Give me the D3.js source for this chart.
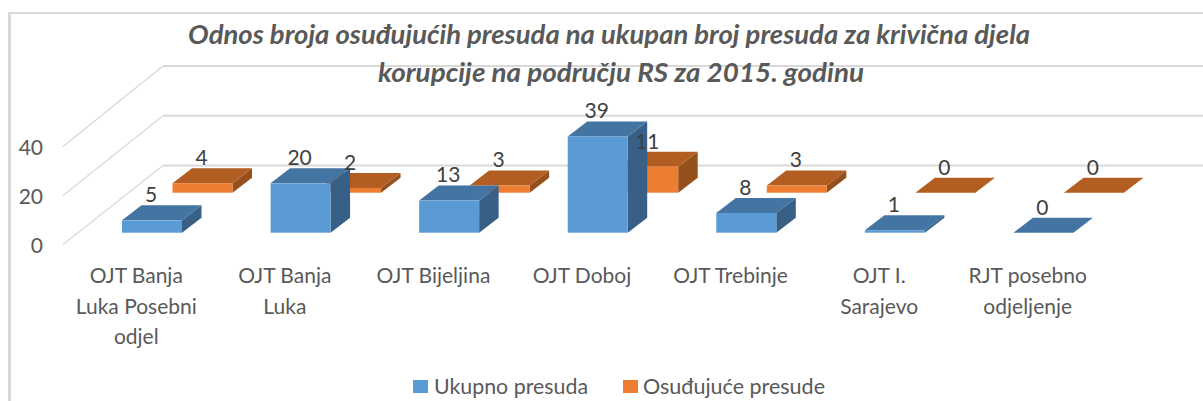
<!DOCTYPE html>
<html><head><meta charset="utf-8">
<script src="https://cdn.jsdelivr.net/npm/d3@7"></script>
<style>html,body{margin:0;padding:0;background:#fff}svg{display:block}text{font-family:Lato,"Open Sans",sans-serif;fill:#595959}</style>
</head><body><svg id="c" width="1203" height="401"></svg>
<script>
const titleLines = ["Odnos broja osuđujućih presuda na ukupan broj presuda za krivična djela", "korupcije na području RS za 2015. godinu"];
const categories = ["OJT Banja Luka Posebni odjel", "OJT Banja Luka", "OJT Bijeljina", "OJT Doboj", "OJT Trebinje", "OJT I. Sarajevo", "RJT posebno odjeljenje"];
const categoryLines = [["OJT Banja", "Luka Posebni", "odjel"], ["OJT Banja", "Luka"], ["OJT Bijeljina"], ["OJT Doboj"], ["OJT Trebinje"], ["OJT I.", "Sarajevo"], ["RJT posebno", "odjeljenje"]];
const seriesNames = ["Ukupno presuda", "Osuđujuće presude"];
const ukupno = [5, 20, 13, 39, 8, 1, 0];
const osudjujuce = [4, 2, 3, 11, 3, 0, 0];
const yTicks = [0, 20, 40];

const svg = d3.select("#c");
const W = 1203;
const depth = {dx: 19.5, dy: -15};
const barW = 60;

const x = d3.scaleBand().domain(categories).range([62, 1102]);
const xSeries = d3.scalePoint().domain(seriesNames).range([60, 110.5]);
const yFront = d3.scaleLinear().domain([0, 40]).range([244.5, 146.5]);
const yBack = d3.scaleLinear().domain([0, 40]).range([165.5, 66]);
const heightBy = {
  [seriesNames[0]]: d3.scaleLinear().domain([0, 40]).range([232.7, 134]),
  [seriesNames[1]]: d3.scaleLinear().domain([0, 40]).range([192.7, 98])
};
const palette = {
  [seriesNames[0]]: {front: "#5b9bd5", top: "#4474a1", side: "#386087"},
  [seriesNames[1]]: {front: "#ed7d31", top: "#b25d22", side: "#95501b"}
};

// chart frame
svg.append("line").attr("x1", 9).attr("x2", W).attr("y1", 13).attr("y2", 13).attr("stroke", "#d9d9d9").attr("stroke-width", 2);
svg.append("line").attr("x1", 9.5).attr("x2", 9.5).attr("y1", 12).attr("y2", 401).attr("stroke", "#d9d9d9").attr("stroke-width", 3);

// walls
const grid = svg.append("g").selectAll("g").data(yTicks).join("g").attr("fill", "none").attr("stroke", "#d9d9d9");
grid.append("line").attr("x1", 163).attr("x2", W).attr("y1", d => yBack(d)).attr("y2", d => yBack(d)).attr("stroke-width", 2);
grid.append("line").attr("x1", 63).attr("x2", 163).attr("y1", d => yFront(d)).attr("y2", d => yBack(d)).attr("stroke-width", 1.3);

// y axis
const yAxis = svg.append("g").attr("transform", "translate(43,1)")
  .call(d3.axisLeft(yFront).tickValues(yTicks).tickSize(0).tickPadding(0));
yAxis.select(".domain").remove();
yAxis.selectAll("text").attr("font-size", 21).attr("font-family", "Lato").attr("fill", "#595959");

// x axis labels
const xAxis = svg.append("g").attr("transform", "translate(0,266)")
  .call(d3.axisBottom(x).tickSize(0).tickPadding(0));
xAxis.select(".domain").remove();
xAxis.selectAll("text").each(function (d, i) {
  const t = d3.select(this).text(null).attr("font-size", 21).attr("font-family", "Lato").attr("fill", "#595959").attr("dy", null).attr("y", 0);
  categoryLines[i].forEach((line, j) => {
    t.append("tspan").attr("x", 0).attr("y", 17 + j * 30.5).text(line);
  });
});

// bars
function drawSeries(name, values) {
  const h = heightBy[name], c = palette[name];
  const bars = svg.append("g").selectAll("g").data(values).join("g")
    .attr("transform", (d, i) => `translate(${x(categories[i]) + xSeries(name)},0)`);
  const floor = h(0);
  bars.append("path").attr("fill", c.side).attr("d", d =>
    `M${barW},${h(d)}l${depth.dx},${depth.dy}V${floor + depth.dy}L${barW},${floor}Z`);
  bars.append("path").attr("fill", c.top).attr("d", d =>
    `M0,${h(d)}l${depth.dx},${depth.dy}h${barW}l${-depth.dx},${-depth.dy}Z`);
  bars.append("rect").attr("fill", c.front).attr("x", 0).attr("width", barW)
    .attr("y", d => h(d)).attr("height", d => floor - h(d));
}
drawSeries(seriesNames[1], osudjujuce);
drawSeries(seriesNames[0], ukupno);

// value labels
function drawLabels(name, values) {
  const h = heightBy[name];
  svg.append("g").selectAll("text").data(values).join("text")
    .attr("x", (d, i) => x(categories[i]) + xSeries(name) + barW / 2 - 1)
    .attr("y", d => h(d) - 25.5).attr("dy", "0.35em")
    .attr("text-anchor", "middle").attr("font-size", 21).style("fill", "#404040").text(d => d);
}
drawLabels(seriesNames[1], osudjujuce);
drawLabels(seriesNames[0], ukupno);

// title
svg.append("g").selectAll("text").data(titleLines).join("text")
  .attr("x", (d, i) => [188, 378][i]).attr("y", (d, i) => [44, 82][i])
  .attr("textLength", (d, i) => [842, 486][i]).attr("lengthAdjust", "spacingAndGlyphs")
  .attr("font-size", 26).attr("font-weight", 700).attr("font-style", "italic").text(d => d);

// legend
const legend = svg.append("g").selectAll("g").data(seriesNames).join("g");
legend.append("rect").attr("x", (d, i) => [413, 623][i]).attr("y", 380).attr("width", 15).attr("height", 13)
  .attr("fill", d => palette[d].front);
legend.append("text").attr("x", (d, i) => [434, 643][i]).attr("y", 394)
  .attr("textLength", (d, i) => [154, 182][i]).attr("lengthAdjust", "spacingAndGlyphs")
  .attr("font-size", 22).text(d => d);
</script></body></html>
